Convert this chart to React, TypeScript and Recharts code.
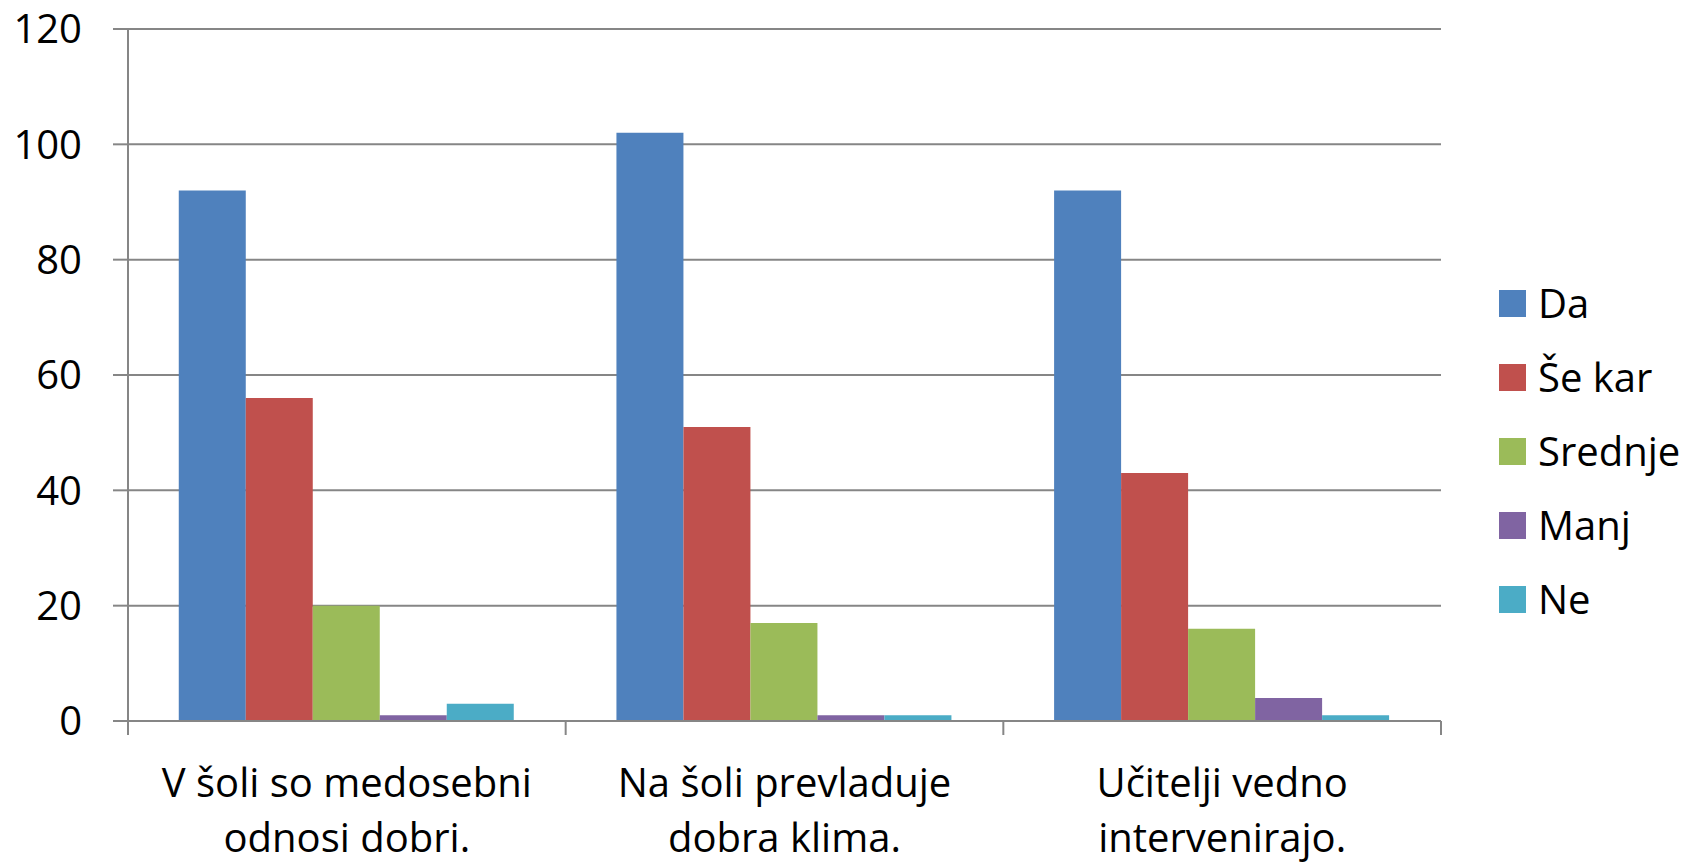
import React from 'react';
import { BarChart, Bar, XAxis, YAxis, CartesianGrid } from 'recharts';

const categories = ['V šoli so medosebni odnosi dobri.', 'Na šoli prevladuje dobra klima.', 'Učitelji vedno intervenirajo.'];
const categoryLines = [
  ['V šoli so medosebni', 'odnosi dobri.'],
  ['Na šoli prevladuje', 'dobra klima.'],
  ['Učitelji vedno', 'intervenirajo.'],
];
const seriesNames = ['Da', 'Še kar', 'Srednje', 'Manj', 'Ne'];
const da = [92, 102, 92];
const seKar = [56, 51, 43];
const srednje = [20, 17, 16];
const manj = [1, 1, 4];
const ne = [3, 1, 1];
const yTicks = [0, 20, 40, 60, 80, 100, 120];
const colors = ['#4F81BD', '#C0504D', '#9BBB59', '#8064A2', '#4BACC6'];

const seriesValues = [da, seKar, srednje, manj, ne];
const data = categories.map((c, i) => {
  const row: any = { name: c, idx: i };
  seriesNames.forEach((s, k) => { row[s] = seriesValues[k][i]; });
  return row;
});

const W = 1689;
const H = 864;
const LEFT = 128;
const RIGHT = 248;
const TOP = 29;
const XH = 143;
const FONT = '"Open Sans", sans-serif';
const BAND = (W - LEFT - RIGHT) / categories.length;
const GRAY = '#868686';

const CatTick = (props: any) => {
  const { x, y, payload, index } = props;
  const lines = categoryLines[index] || [payload.value];
  return (
    <g>
      <line x1={x - BAND / 2} x2={x - BAND / 2} y1={y} y2={y + 14} stroke={GRAY} strokeWidth={2} />
      {index === categories.length - 1 && (
        <line x1={x + BAND / 2} x2={x + BAND / 2} y1={y} y2={y + 14} stroke={GRAY} strokeWidth={2} />
      )}
      {lines.map((l: string, k: number) => (
        <text key={k} x={x} y={y + 76 + k * 55} textAnchor="middle" fontSize={40} fontFamily={FONT} fill="#000">
          {l}
        </text>
      ))}
    </g>
  );
};

export default function App() {
  return (
    <div style={{ position: 'absolute', left: 0, top: 0, width: W, height: H, background: '#fff', overflow: 'hidden' }}>
      <BarChart
        width={W}
        height={H}
        data={data}
        margin={{ top: TOP, right: RIGHT, left: 0, bottom: 0 }}
        barCategoryGap="11.6%"
        barGap={0}
      >
        <CartesianGrid vertical={false} stroke={GRAY} strokeWidth={2} />
        <YAxis
          width={LEFT}
          domain={[0, 120]}
          ticks={yTicks}
          interval={0}
          tickSize={15}
          tickMargin={31}
          axisLine={{ stroke: GRAY, strokeWidth: 2 }}
          tickLine={{ stroke: GRAY, strokeWidth: 2 }}
          tick={{ fontSize: 40, fontFamily: FONT, fill: '#000' }}
        />
        <XAxis
          dataKey="name"
          height={XH}
          interval={0}
          tickSize={0}
          tickMargin={0}
          axisLine={{ stroke: GRAY, strokeWidth: 2 }}
          tickLine={false}
          tick={<CatTick />}
        />
        {seriesNames.map((s, i) => (
          <Bar key={s} dataKey={s} fill={colors[i]} isAnimationActive={false} />
        ))}
      </BarChart>
      <div style={{ position: 'absolute', left: 1499, top: 266, fontFamily: FONT }}>
        {seriesNames.map((s, i) => (
          <div key={s} style={{ display: 'flex', alignItems: 'center', height: 74 }}>
            <div style={{ width: 27, height: 27, background: colors[i], marginRight: 12 }} />
            <span style={{ fontSize: 40, color: '#000', lineHeight: '74px', whiteSpace: 'nowrap' }}>{s}</span>
          </div>
        ))}
      </div>
    </div>
  );
}
